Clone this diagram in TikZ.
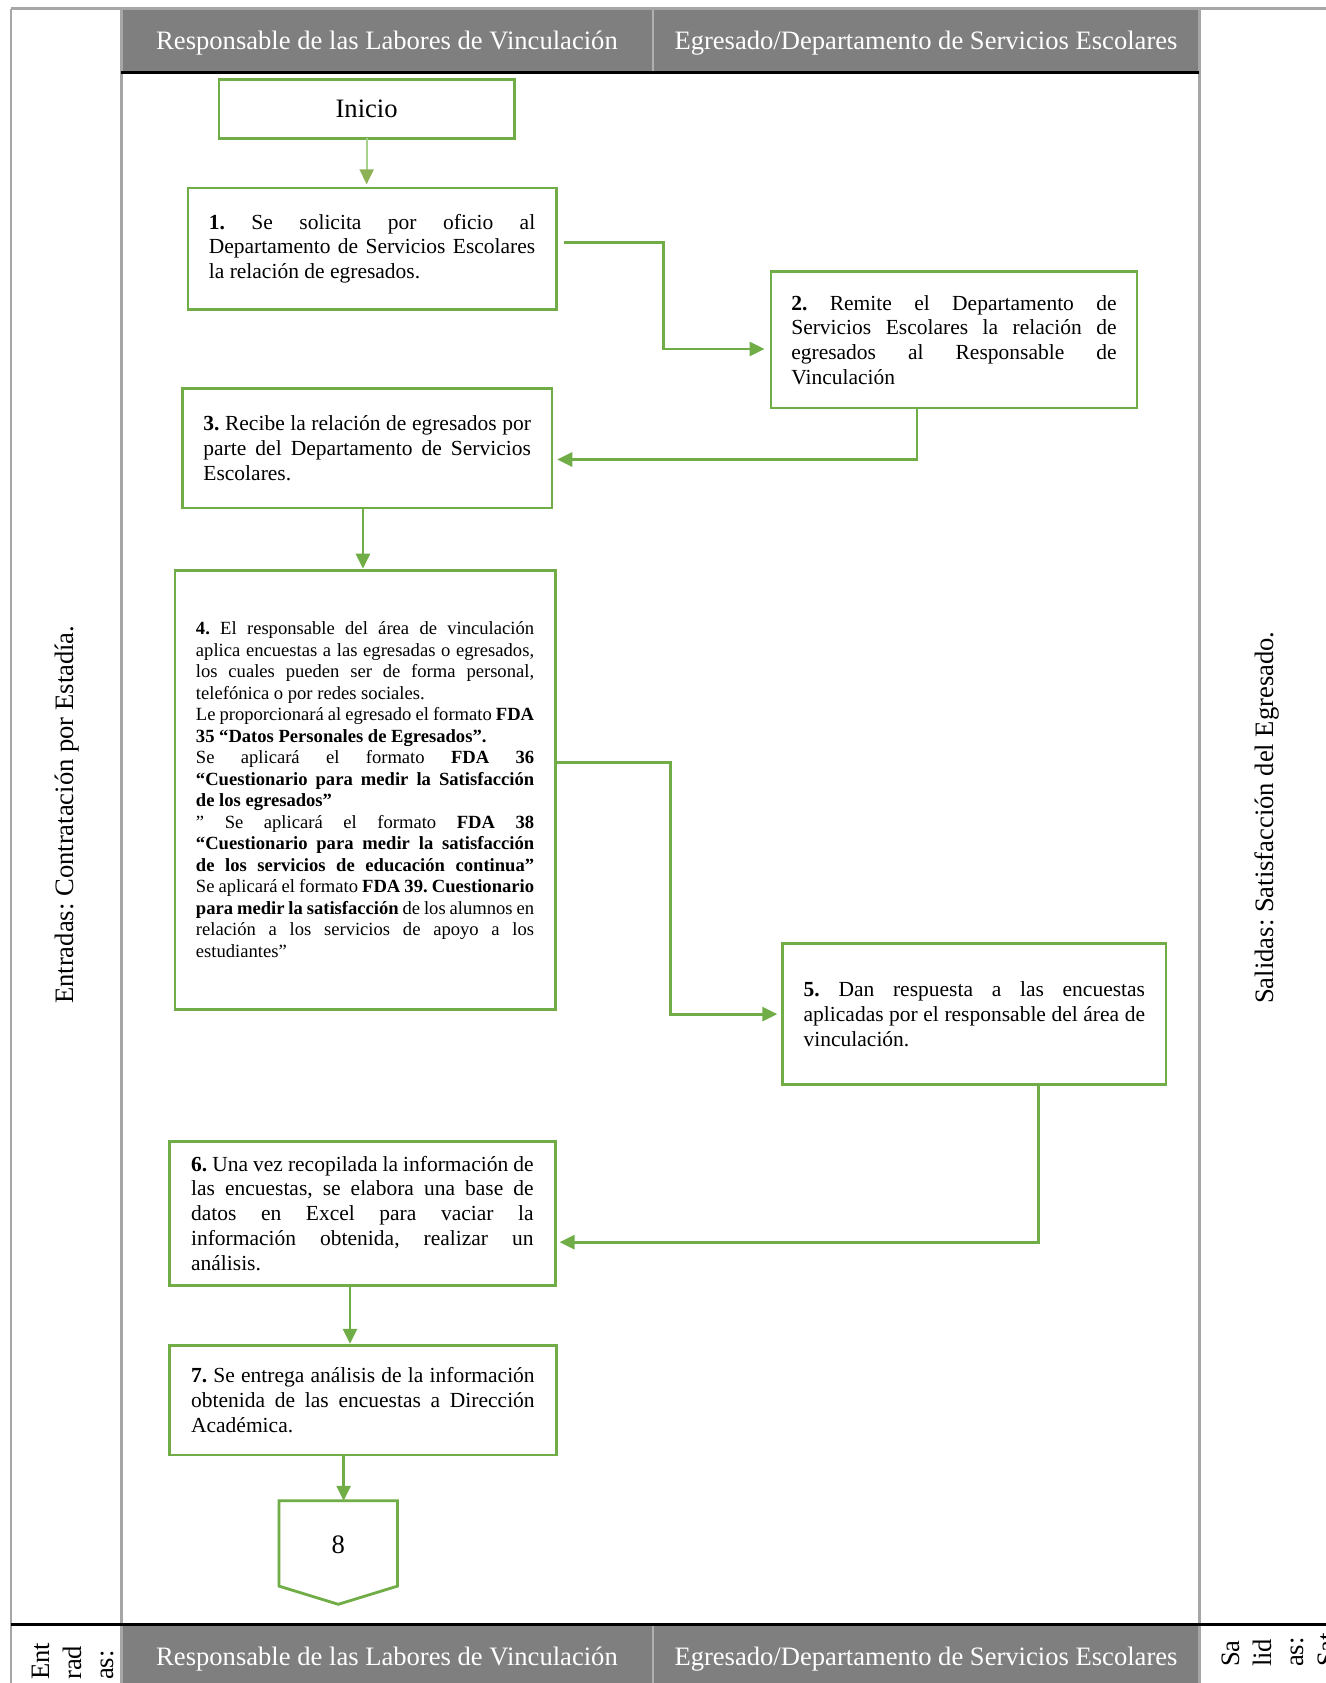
\documentclass[tikz,border=0pt]{standalone}
\usepackage{fontspec}
\setmainfont{Liberation Serif}
\usetikzlibrary{arrows.meta}
\definecolor{grn}{HTML}{70AD47}
\definecolor{grnL}{HTML}{A9D18E}
\definecolor{grnT}{HTML}{8DB255}
\definecolor{hdrgray}{HTML}{7F7F7F}
\definecolor{frm}{HTML}{A6A6A6}
\definecolor{hdrdiv}{HTML}{B0B0B0}
\frenchspacing
\newcommand\jl[1]{\hbox to\hsize{\frenchspacing\spaceskip=0pt\xspaceskip=0pt #1}}
\newcommand\rl[1]{\hbox to\hsize{\frenchspacing\spaceskip=0pt\xspaceskip=0pt #1\hfil}}
\begin{document}
\begin{tikzpicture}[x=1pt,y=-1pt,
  stepbox/.style={draw=grn, line width=2.8pt, inner sep=0pt, fill=white,
     font=\fontsize{21.5}{24.7}\selectfont},
  smallbox/.style={stepbox, font=\fontsize{18.6}{21.5}\selectfont},
  arr/.style={draw=grn, line width=2.8pt, -{Triangle[length=15pt,width=14pt]}},
  arrI/.style={draw=grnL, line width=2pt, -{Triangle[length=15pt,width=14pt,fill=grnT,color=grnT]}},
  hdrtext/.style={text=white, inner sep=0pt, font=\fontsize{26.6}{30}\selectfont},
  sidetext/.style={rotate=90, inner sep=0pt, font=\fontsize{26.6}{30}\selectfont},
  celltext/.style={rotate=90, inner sep=0pt, align=left, anchor=north west, font=\fontsize{26.6}{32}\selectfont},
  frameline/.style={draw=frm, line width=2.4pt},
  blackline/.style={draw=black, line width=3pt}
]
\useasboundingbox (0,0) rectangle (1325,1683);
\fill[white] (0,0) rectangle (1325,1683);

% header bands
\fill[hdrgray] (121.3,8.6) rectangle (1199.3,73);
\fill[hdrgray] (121.3,1624.5) rectangle (1199.3,1690);
\draw[hdrdiv, line width=2pt] (652.8,8.6) -- (652.8,73);
\draw[hdrdiv, line width=2pt] (652.8,1624.5) -- (652.8,1690);

% frame lines
\draw[frameline] (10.7,8.6) -- (1340,8.6);
\draw[frameline] (10.7,8.6) -- (10.7,1690);
\draw[frameline] (121.3,8.6) -- (121.3,1690);
\draw[frameline] (1199.3,8.6) -- (1199.3,1690);
\draw[blackline] (121.3,73) -- (1199.3,73);
\draw[blackline] (10.7,1624.5) -- (1340,1624.5);

% header texts
\node[hdrtext] (h1) at (387,43.3) {Responsable de las Labores de Vinculación};
\node[hdrtext] (h2) at (926,43.3) {Egresado/Departamento de Servicios Escolares};
\node[hdrtext] (f1) at (387,1659) {Responsable de las Labores de Vinculación};
\node[hdrtext] (f2) at (926,1659) {Egresado/Departamento de Servicios Escolares};

% side labels
\node[sidetext, anchor=west] (inL) at (66.6,1004) {Entradas: Contratación por Estadía.};
\node[sidetext, anchor=west] (outL) at (1267,1004) {Salidas: Satisfacción del Egresado.};
\node[celltext] (inC) at (32,1680) {Ent\\rad\\as:};
\node[celltext] (outC) at (1222,1667) {Sa\\lid\\as:\\Sat};

% boxes
\node[stepbox, minimum width=295.3pt, minimum height=59.1pt, font=\fontsize{26.6}{30}\selectfont] (ini) at (366.65,109) {Inicio};

\node[stepbox, minimum width=368.3pt, minimum height=121.3pt, text width=326.4pt] (b1) at (372.05,248.55) {%
\jl{\textbf{1.} Se solicita por oficio al}
\jl{Departamento de Servicios Escolares}
\rl{la relación de egresados.}};

\node[stepbox, minimum width=366.1pt, minimum height=136.4pt, text width=325.3pt] (b2) at (953.95,339.8) {%
\jl{\textbf{2.} Remite el Departamento de}
\jl{Servicios Escolares la relación de}
\jl{egresados al Responsable de}
\rl{Vinculación}};

\node[stepbox, minimum width=369.4pt, minimum height=119.2pt, text width=327.5pt] (b3) at (367.2,448.3) {%
\jl{\textbf{3.} Recibe la relación de egresados por}
\jl{parte del Departamento de Servicios}
\rl{Escolares.}};

\node[smallbox, minimum width=380.1pt, minimum height=439.2pt, text width=338.2pt] (b4) at (365.05,789.7) {%
\jl{\textbf{4.} El responsable del área de vinculación}
\jl{aplica encuestas a las egresadas o egresados,}
\jl{los cuales pueden ser de forma personal,}
\rl{telefónica o por redes sociales.}
\jl{Le proporcionará al egresado el formato \textbf{FDA}}
\rl{\textbf{35 “Datos Personales de Egresados”.}}
\jl{Se aplicará el formato \textbf{FDA 36}}
\jl{\textbf{“Cuestionario para medir la Satisfacción}}
\rl{\textbf{de los egresados”}}
\jl{” Se aplicará el formato \textbf{FDA 38}}
\jl{\textbf{“Cuestionario para medir la satisfacción}}
\jl{\textbf{de los servicios de educación continua”}}
\jl{Se aplicará el formato \textbf{FDA 39. Cuestionario}}
\jl{\textbf{para medir la satisfacción} de los alumnos en}
\jl{relación a los servicios de apoyo a los}
\rl{estudiantes”}};

\node[stepbox, minimum width=383.3pt, minimum height=140.6pt, text width=341.4pt] (b5) at (974.35,1014.1) {%
\jl{\textbf{5.} Dan respuesta a las encuestas}
\jl{aplicadas por el responsable del área de}
\rl{vinculación.}};

\node[stepbox, minimum width=385.5pt, minimum height=143.9pt, text width=342.5pt] (b6) at (362.35,1213.25) {%
\jl{\textbf{6.} Una vez recopilada la información de}
\jl{las encuestas, se elabora una base de}
\jl{datos en Excel para vaciar la}
\jl{información obtenida, realizar un}
\rl{análisis.}};

\node[stepbox, minimum width=386.6pt, minimum height=109.6pt, text width=343.6pt] (b7) at (362.9,1400.1) {%
\jl{\textbf{7.} Se entrega análisis de la información}
\jl{obtenida de las encuestas a Dirección}
\rl{Académica.}};

% off-page connector
\node[inner sep=0pt, minimum width=118.1pt, minimum height=103.1pt] (c8) at (338.25,1552.55) {};
\draw[draw=grn, line width=2.8pt, fill=white, line join=miter]
  (c8.north west) -- (c8.north east) -- ([yshift=18.2pt]c8.south east) -- (c8.south) -- ([yshift=18.2pt]c8.south west) -- cycle;
\node[inner sep=0pt, font=\fontsize{26.6}{30}\selectfont] (c8t) at (338.25,1545) {8};

% connectors
\draw[arrI] ([yshift=2.15pt]ini.south) -- ([yshift=2.15pt]ini.south |- b1.north);
\draw[arr] ([xshift=6pt,yshift=5.85pt]b1.east) -- ++(99.9,0) |- ([xshift=-5pt,yshift=-9.2pt]b2.west);
\draw[arr] ([xshift=-36.95pt]b2.south) |- ([xshift=4pt,yshift=-11.2pt]b3.east);
\draw[arr] ([xshift=-4.3pt]b3.south) -- ([xshift=-4.3pt]b3.south |- b4.north);
\draw[arr] ([yshift=27.4pt]b4.east) -- ++(113.8,0) |- ([xshift=-4pt]b5.west);
\draw[arr] ([xshift=63.95pt]b5.south) |- ([xshift=3pt,yshift=-28.95pt]b6.east);
\draw[arr] ([xshift=-12.35pt]b6.south) -- ([xshift=-12.35pt]b6.south |- b7.north);
\draw[arr] ([xshift=-19.3pt]b7.south) -- ([xshift=-19.3pt]b7.south |- c8.north);
\end{tikzpicture}
\end{document}
